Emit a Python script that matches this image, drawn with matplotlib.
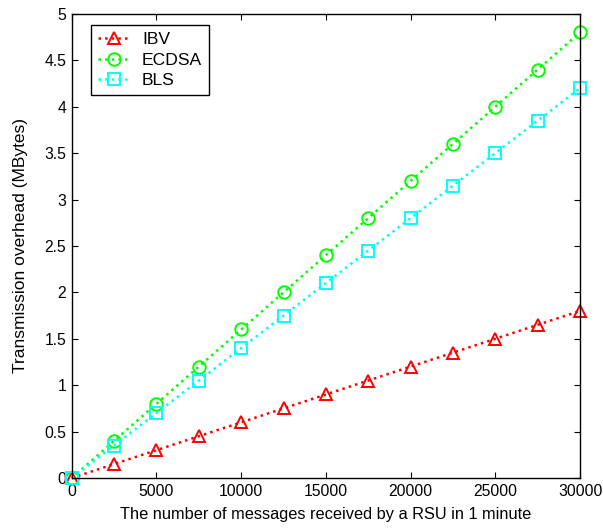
import matplotlib
matplotlib.use("Agg")
import matplotlib.pyplot as plt

plt.rcParams['font.family'] = ['Liberation Sans', 'DejaVu Sans']

x = [0, 2500, 5000, 7500, 10000, 12500, 15000, 17500, 20000, 22500, 25000, 27500, 30000]
ibv = [0, 0.15, 0.30, 0.45, 0.60, 0.75, 0.90, 1.05, 1.20, 1.35, 1.50, 1.65, 1.80]
ecdsa = [0, 0.40, 0.80, 1.20, 1.60, 2.00, 2.40, 2.80, 3.20, 3.60, 4.00, 4.40, 4.80]
bls = [0, 0.35, 0.70, 1.05, 1.40, 1.75, 2.10, 2.45, 2.80, 3.15, 3.50, 3.85, 4.20]

xticks = [0, 5000, 10000, 15000, 20000, 25000, 30000]
xticklabels = ['0', '5000', '10000', '15000', '20000', '25000', '30000']
yticks = [0, 0.5, 1, 1.5, 2, 2.5, 3, 3.5, 4, 4.5, 5]
yticklabels = ['0', '0.5', '1', '1.5', '2', '2.5', '3', '3.5', '4', '4.5', '5']

fig = plt.figure(figsize=(6.03, 5.32), dpi=100)
ax = fig.add_axes([0.119, 0.1015, 0.843, 0.8725])

common = dict(linestyle=':', linewidth=1.8, markersize=9, markeredgewidth=1.4,
              markerfacecolor='none', clip_on=False)
ax.plot(x, ibv, color='#ff0000', marker='^', label='IBV', **common)
ax.plot(x, ecdsa, color='#00ff00', marker='o', label='ECDSA', **common)
ax.plot(x, bls, color='#00ffff', marker='s', label='BLS', **common)

ax.set_xlim(0, 30000)
ax.set_ylim(0, 5)
ax.set_xticks(xticks)
ax.set_xticklabels(xticklabels)
ax.set_yticks(yticks)
ax.set_yticklabels(yticklabels)
ax.tick_params(direction='in', top=True, right=True, labelsize=11.3, length=4, pad=4)
for s in ax.spines.values():
    s.set_linewidth(1.0)

ax.set_xlabel('The number of messages received by a RSU in 1 minute', fontsize=11.8, labelpad=6)
ax.set_ylabel('Transmission overhead (MBytes)', fontsize=12.5, labelpad=12)

leg = ax.legend(loc='upper left', bbox_to_anchor=(0.0374, 0.976), borderaxespad=0,
                fontsize=12.6, fancybox=False, edgecolor='black', framealpha=1,
                borderpad=0.4, handlelength=1.83, labelspacing=0.3, handletextpad=0.7)
leg.get_frame().set_linewidth(1.0)

fig.savefig('out.png', dpi=100)
